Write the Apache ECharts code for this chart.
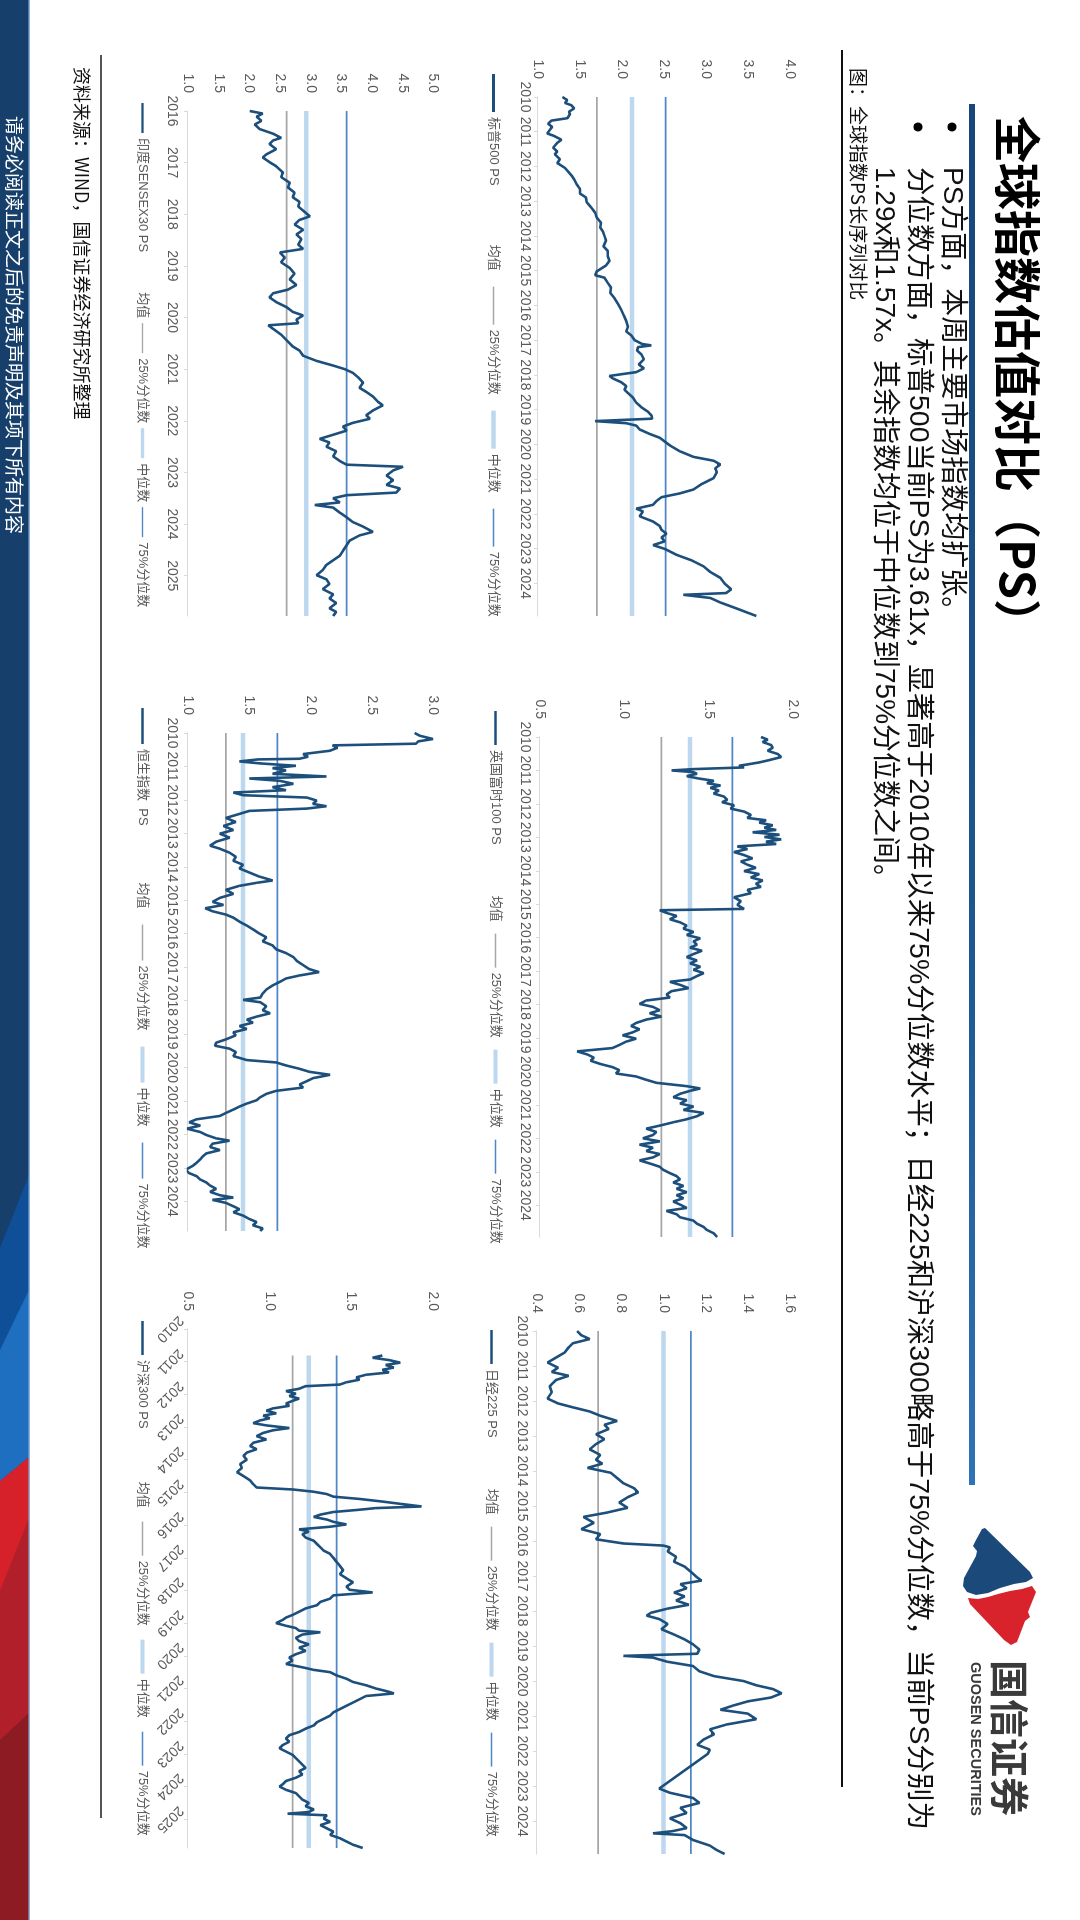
<!DOCTYPE html>
<html><head><meta charset="utf-8">
<script src="https://cdn.jsdelivr.net/npm/echarts@6/dist/echarts.min.js"></script>
<style>
html,body{margin:0;padding:0;width:1080px;height:1920px;overflow:hidden;background:#fff}
#slide{position:absolute;left:0;top:0;width:1920px;height:1080px;transform-origin:0 0;transform:translateX(1080px) rotate(90deg);background:#fff}
#chart{width:1920px;height:1080px}
</style></head><body>
<div id="slide"><div id="chart"></div></div>
<script>
// ---------- tick labels ----------
const ticks2010to2024 = ['2010','2011','2012','2013','2014','2015','2016','2017','2018','2019','2020','2021','2022','2023','2024'];
const ticksIndia = ['2016','2017','2018','2019','2020','2021','2022','2023','2024','2025'];
const ticksHS300 = ['2010','2011','2012','2013','2014','2015','2016','2017','2018','2019','2020','2021','2022','2023','2024','2025'];

// ---------- quantile levels [25%, median, 75%] ----------
const spxQuantiles = [1.70, 2.12, 2.52];
const ukQuantiles = [1.22, 1.39, 1.64];
const n225Quantiles = [0.69, 1.00, 1.13];
const indiaQuantiles = [2.61, 2.93, 3.59];
const hsiQuantiles = [1.31, 1.45, 1.73];
const hs300Quantiles = [1.14, 1.24, 1.41];

// ---------- PS series [axis position, PS] ----------
const spxPS = [[2010.00,1.29],[2010.09,1.35],[2010.17,1.32],[2010.24,1.40],[2010.33,1.43],[2010.42,1.37],[2010.50,1.38],[2010.61,1.35],[2010.68,1.16],[2010.77,1.12],[2010.86,1.17],[2010.95,1.14],[2011.05,1.11],[2011.12,1.19],[2011.23,1.28],[2011.32,1.23],[2011.46,1.18],[2011.57,1.23],[2011.65,1.20],[2011.79,1.26],[2011.90,1.23],[2012.04,1.32],[2012.15,1.36],[2012.26,1.40],[2012.37,1.43],[2012.51,1.46],[2012.65,1.50],[2012.78,1.50],[2012.89,1.57],[2013.03,1.58],[2013.20,1.64],[2013.33,1.68],[2013.47,1.70],[2013.62,1.75],[2013.75,1.74],[2013.86,1.77],[2013.99,1.79],[2014.13,1.81],[2014.30,1.78],[2014.43,1.83],[2014.58,1.83],[2014.72,1.85],[2014.85,1.81],[2015.02,1.70],[2015.13,1.68],[2015.20,1.79],[2015.35,1.83],[2015.49,1.87],[2015.64,1.86],[2015.79,1.91],[2015.95,1.95],[2016.12,1.99],[2016.28,2.02],[2016.45,2.05],[2016.62,2.07],[2016.75,2.05],[2016.86,2.11],[2017.00,2.15],[2017.11,2.24],[2017.15,2.35],[2017.20,2.19],[2017.30,2.18],[2017.41,2.23],[2017.55,2.26],[2017.70,2.20],[2017.81,2.26],[2017.92,2.17],[2018.03,1.85],[2018.10,1.89],[2018.21,1.99],[2018.32,2.05],[2018.43,2.03],[2018.54,2.08],[2018.65,2.13],[2018.80,2.17],[2018.93,2.23],[2019.06,2.31],[2019.17,2.35],[2019.26,2.36],[2019.33,1.68],[2019.39,2.05],[2019.46,2.17],[2019.57,2.21],[2019.70,2.33],[2019.81,2.45],[2019.92,2.51],[2020.03,2.57],[2020.20,2.69],[2020.36,2.85],[2020.47,3.09],[2020.58,3.17],[2020.69,3.11],[2020.80,3.13],[2020.97,3.09],[2021.14,2.95],[2021.30,2.85],[2021.41,2.69],[2021.52,2.47],[2021.63,2.41],[2021.74,2.37],[2021.85,2.17],[2021.93,2.25],[2022.07,2.21],[2022.22,2.37],[2022.35,2.45],[2022.46,2.47],[2022.57,2.53],[2022.68,2.47],[2022.79,2.51],[2022.90,2.37],[2023.01,2.51],[2023.18,2.65],[2023.34,2.83],[2023.51,2.97],[2023.67,3.05],[2023.84,3.17],[2024.00,3.22],[2024.17,3.30],[2024.28,3.24],[2024.33,2.73],[2024.42,3.05],[2024.55,3.17],[2024.72,3.36],[2024.83,3.48],[2024.94,3.60]];

const ukPS = [[2010.00,1.81],[2010.08,1.85],[2010.15,1.82],[2010.24,1.87],[2010.32,1.88],[2010.41,1.85],[2010.51,1.91],[2010.60,1.93],[2010.69,1.86],[2010.76,1.80],[2010.82,1.73],[2010.86,1.68],[2010.91,1.71],[2010.96,1.41],[2011.00,1.28],[2011.05,1.41],[2011.10,1.43],[2011.17,1.37],[2011.24,1.44],[2011.31,1.53],[2011.38,1.49],[2011.45,1.57],[2011.52,1.51],[2011.60,1.56],[2011.69,1.53],[2011.78,1.59],[2011.88,1.61],[2011.95,1.58],[2012.04,1.65],[2012.14,1.63],[2012.23,1.71],[2012.33,1.75],[2012.42,1.73],[2012.49,1.84],[2012.56,1.80],[2012.64,1.88],[2012.71,1.83],[2012.78,1.90],[2012.85,1.76],[2012.92,1.92],[2012.99,1.83],[2013.06,1.93],[2013.13,1.84],[2013.20,1.90],[2013.27,1.67],[2013.35,1.73],[2013.44,1.65],[2013.53,1.71],[2013.63,1.76],[2013.72,1.69],[2013.82,1.73],[2013.91,1.78],[2014.01,1.71],[2014.10,1.80],[2014.20,1.75],[2014.29,1.82],[2014.39,1.78],[2014.48,1.81],[2014.57,1.73],[2014.67,1.75],[2014.79,1.65],[2014.91,1.69],[2015.02,1.67],[2015.14,1.71],[2015.18,1.21],[2015.26,1.25],[2015.35,1.31],[2015.45,1.27],[2015.54,1.33],[2015.64,1.37],[2015.73,1.35],[2015.83,1.41],[2015.92,1.37],[2016.02,1.45],[2016.11,1.41],[2016.21,1.43],[2016.30,1.39],[2016.39,1.46],[2016.49,1.41],[2016.58,1.37],[2016.68,1.43],[2016.77,1.39],[2016.87,1.45],[2016.96,1.41],[2017.06,1.47],[2017.15,1.43],[2017.25,1.39],[2017.32,1.27],[2017.41,1.33],[2017.51,1.38],[2017.60,1.28],[2017.70,1.25],[2017.79,1.27],[2017.88,1.13],[2017.98,1.09],[2018.07,1.17],[2018.17,1.21],[2018.26,1.15],[2018.36,1.22],[2018.45,1.13],[2018.55,1.07],[2018.64,1.04],[2018.74,1.09],[2018.83,1.05],[2018.92,0.99],[2019.02,1.07],[2019.11,1.01],[2019.21,0.97],[2019.30,0.93],[2019.40,0.72],[2019.49,0.78],[2019.59,0.82],[2019.68,0.80],[2019.78,0.86],[2019.87,0.93],[2019.96,0.97],[2020.06,0.95],[2020.15,1.07],[2020.25,1.13],[2020.34,1.19],[2020.44,1.37],[2020.51,1.45],[2020.58,1.39],[2020.67,1.33],[2020.77,1.29],[2020.86,1.37],[2020.96,1.33],[2021.05,1.41],[2021.15,1.35],[2021.24,1.47],[2021.34,1.43],[2021.43,1.37],[2021.52,1.29],[2021.62,1.21],[2021.71,1.13],[2021.81,1.19],[2021.90,1.17],[2022.00,1.11],[2022.09,1.21],[2022.19,1.09],[2022.28,1.17],[2022.38,1.13],[2022.47,1.21],[2022.57,1.17],[2022.66,1.09],[2022.75,1.15],[2022.85,1.21],[2022.94,1.23],[2023.04,1.27],[2023.13,1.31],[2023.23,1.33],[2023.32,1.29],[2023.42,1.35],[2023.51,1.31],[2023.61,1.37],[2023.70,1.31],[2023.79,1.35],[2023.89,1.29],[2023.98,1.33],[2024.08,1.37],[2024.17,1.25],[2024.27,1.31],[2024.36,1.33],[2024.46,1.41],[2024.55,1.43],[2024.65,1.47],[2024.74,1.49],[2024.84,1.53],[2024.95,1.55]];

const n225PS = [[2010.00,0.59],[2010.12,0.61],[2010.23,0.65],[2010.35,0.57],[2010.47,0.55],[2010.62,0.53],[2010.76,0.49],[2010.90,0.45],[2011.05,0.50],[2011.17,0.47],[2011.28,0.55],[2011.40,0.49],[2011.58,0.46],[2011.75,0.47],[2011.93,0.45],[2012.07,0.50],[2012.18,0.57],[2012.30,0.65],[2012.42,0.70],[2012.57,0.78],[2012.68,0.72],[2012.80,0.74],[2012.95,0.68],[2013.09,0.72],[2013.23,0.68],[2013.38,0.65],[2013.54,0.70],[2013.68,0.68],[2013.79,0.71],[2013.91,0.64],[2014.05,0.75],[2014.20,0.78],[2014.35,0.81],[2014.49,0.86],[2014.61,0.88],[2014.75,0.83],[2014.90,0.79],[2015.05,0.83],[2015.19,0.73],[2015.31,0.62],[2015.48,0.67],[2015.66,0.61],[2015.80,0.70],[2015.95,0.68],[2016.07,0.81],[2016.13,1.00],[2016.18,1.03],[2016.30,1.02],[2016.45,1.06],[2016.59,1.05],[2016.73,1.10],[2016.88,1.13],[2017.04,1.16],[2017.13,1.18],[2017.23,1.08],[2017.35,1.11],[2017.47,1.05],[2017.58,1.10],[2017.70,1.06],[2017.82,1.12],[2017.93,1.02],[2018.05,0.94],[2018.13,0.92],[2018.23,0.98],[2018.37,1.02],[2018.52,0.99],[2018.67,1.05],[2018.81,1.10],[2018.95,1.14],[2019.10,1.17],[2019.22,1.16],[2019.28,0.81],[2019.33,0.95],[2019.45,1.02],[2019.57,1.14],[2019.72,1.17],[2019.86,1.24],[2020.00,1.38],[2020.12,1.44],[2020.23,1.52],[2020.35,1.56],[2020.47,1.51],[2020.58,1.40],[2020.70,1.33],[2020.82,1.27],[2020.93,1.40],[2021.09,1.44],[2021.24,1.30],[2021.38,1.22],[2021.52,1.24],[2021.67,1.19],[2021.82,1.16],[2021.96,1.22],[2022.08,1.21],[2023.07,0.98],[2023.19,1.03],[2023.34,1.14],[2023.48,1.17],[2023.62,1.08],[2023.77,1.11],[2023.92,1.03],[2024.06,1.08],[2024.20,1.11],[2024.29,1.04],[2024.35,0.95],[2024.40,1.10],[2024.54,1.14],[2024.70,1.22],[2024.82,1.25],[2024.94,1.29]];

const indiaPS = [[2016.00,2.01],[2016.05,2.22],[2016.11,2.12],[2016.19,2.20],[2016.26,2.09],[2016.35,2.17],[2016.44,2.39],[2016.52,2.52],[2016.57,2.39],[2016.64,2.33],[2016.74,2.44],[2016.84,2.28],[2016.90,2.22],[2016.99,2.33],[2017.07,2.44],[2017.19,2.55],[2017.28,2.52],[2017.39,2.66],[2017.48,2.63],[2017.58,2.74],[2017.67,2.71],[2017.76,2.82],[2017.85,2.80],[2017.95,2.90],[2018.04,2.99],[2018.11,2.82],[2018.20,2.74],[2018.30,2.88],[2018.39,2.77],[2018.48,2.85],[2018.59,2.80],[2018.67,2.88],[2018.74,2.50],[2018.84,2.58],[2018.93,2.52],[2019.04,2.66],[2019.15,2.74],[2019.26,2.66],[2019.37,2.77],[2019.46,2.63],[2019.53,2.39],[2019.61,2.33],[2019.70,2.44],[2019.80,2.61],[2019.89,2.71],[2019.96,2.88],[2020.04,2.77],[2020.11,2.80],[2020.15,2.31],[2020.22,2.39],[2020.33,2.52],[2020.44,2.61],[2020.56,2.71],[2020.64,2.82],[2020.74,2.88],[2020.84,3.10],[2020.93,3.37],[2021.00,3.56],[2021.07,3.69],[2021.16,3.78],[2021.26,3.86],[2021.36,3.80],[2021.44,3.91],[2021.53,4.02],[2021.63,4.10],[2021.70,4.18],[2021.80,4.02],[2021.89,3.91],[2021.96,3.97],[2022.04,3.69],[2022.11,3.53],[2022.19,3.59],[2022.27,3.37],[2022.35,3.15],[2022.42,3.31],[2022.50,3.26],[2022.59,3.42],[2022.69,3.37],[2022.78,3.48],[2022.85,3.59],[2022.89,4.51],[2022.96,4.35],[2023.06,4.24],[2023.15,4.35],[2023.24,4.24],[2023.31,4.46],[2023.39,4.40],[2023.44,3.59],[2023.50,3.37],[2023.58,3.48],[2023.63,3.07],[2023.68,3.37],[2023.78,3.48],[2023.87,3.59],[2023.96,3.69],[2024.05,3.86],[2024.15,4.02],[2024.22,3.80],[2024.32,3.64],[2024.41,3.59],[2024.52,3.53],[2024.61,3.48],[2024.70,3.37],[2024.79,3.26],[2024.89,3.20],[2024.99,3.10],[2025.07,3.26],[2025.16,3.31],[2025.26,3.20],[2025.36,3.37],[2025.44,3.31],[2025.53,3.42],[2025.63,3.31],[2025.70,3.42],[2025.78,3.37]];

const hsiPS = [[2010.00,2.85],[2010.08,2.89],[2010.18,3.00],[2010.25,2.88],[2010.32,2.86],[2010.37,2.18],[2010.44,2.22],[2010.53,2.16],[2010.63,1.94],[2010.71,1.98],[2010.77,1.91],[2010.79,1.57],[2010.85,1.42],[2010.91,1.59],[2010.98,1.88],[2011.05,1.69],[2011.12,1.80],[2011.22,1.69],[2011.30,2.13],[2011.36,1.50],[2011.43,1.75],[2011.52,1.86],[2011.62,1.69],[2011.71,1.80],[2011.78,1.37],[2011.86,1.45],[2011.93,1.97],[2012.02,2.05],[2012.12,2.02],[2012.19,2.13],[2012.26,1.97],[2012.33,1.50],[2012.42,1.42],[2012.54,1.31],[2012.66,1.39],[2012.78,1.29],[2012.90,1.37],[2013.01,1.26],[2013.13,1.34],[2013.25,1.23],[2013.37,1.18],[2013.46,1.26],[2013.58,1.34],[2013.70,1.39],[2013.82,1.37],[2013.94,1.45],[2014.05,1.42],[2014.17,1.50],[2014.29,1.58],[2014.41,1.69],[2014.48,1.56],[2014.57,1.42],[2014.69,1.31],[2014.81,1.37],[2014.93,1.26],[2015.05,1.20],[2015.14,1.29],[2015.24,1.14],[2015.33,1.20],[2015.43,1.31],[2015.52,1.37],[2015.64,1.42],[2015.76,1.48],[2015.87,1.53],[2015.99,1.58],[2016.11,1.64],[2016.23,1.61],[2016.35,1.69],[2016.47,1.72],[2016.58,1.80],[2016.70,1.86],[2016.82,1.89],[2016.94,1.94],[2017.06,1.99],[2017.15,2.07],[2017.25,1.91],[2017.34,1.80],[2017.44,1.75],[2017.55,1.69],[2017.67,1.64],[2017.79,1.61],[2017.91,1.59],[2017.98,1.45],[2018.05,1.59],[2018.17,1.64],[2018.29,1.61],[2018.38,1.67],[2018.48,1.56],[2018.57,1.48],[2018.66,1.53],[2018.76,1.42],[2018.85,1.48],[2018.95,1.37],[2019.04,1.39],[2019.16,1.31],[2019.26,1.23],[2019.35,1.22],[2019.44,1.34],[2019.54,1.39],[2019.66,1.37],[2019.78,1.48],[2019.85,1.72],[2019.94,1.80],[2020.04,1.91],[2020.13,1.99],[2020.22,2.16],[2020.32,2.02],[2020.41,1.97],[2020.51,1.91],[2020.60,1.94],[2020.70,1.72],[2020.79,1.64],[2020.89,1.59],[2020.98,1.56],[2021.08,1.48],[2021.17,1.42],[2021.26,1.37],[2021.36,1.31],[2021.45,1.26],[2021.55,1.07],[2021.64,1.01],[2021.74,1.10],[2021.83,0.99],[2021.93,1.10],[2022.02,1.15],[2022.12,1.23],[2022.19,1.34],[2022.28,1.20],[2022.38,1.18],[2022.47,1.26],[2022.57,1.15],[2022.66,1.12],[2022.75,1.10],[2022.85,1.07],[2022.94,1.04],[2023.06,0.98],[2023.16,1.01],[2023.25,1.07],[2023.35,1.10],[2023.44,1.15],[2023.53,1.18],[2023.63,1.23],[2023.72,1.18],[2023.82,1.26],[2023.89,1.37],[2023.96,1.20],[2024.05,1.31],[2024.15,1.37],[2024.24,1.42],[2024.33,1.37],[2024.43,1.45],[2024.53,1.50],[2024.62,1.56],[2024.72,1.53],[2024.81,1.61],[2024.89,1.59]];

const hs300PS = [[2010.81,1.69],[2010.88,1.63],[2010.95,1.73],[2011.03,1.80],[2011.10,1.71],[2011.18,1.76],[2011.25,1.69],[2011.33,1.73],[2011.40,1.59],[2011.48,1.53],[2011.55,1.55],[2011.63,1.47],[2011.70,1.43],[2011.75,1.22],[2011.83,1.18],[2011.90,1.10],[2011.98,1.16],[2012.05,1.12],[2012.13,1.18],[2012.20,1.14],[2012.28,1.10],[2012.35,1.12],[2012.43,1.02],[2012.50,0.98],[2012.58,1.04],[2012.65,0.96],[2012.73,1.00],[2012.80,0.94],[2012.88,0.90],[2012.95,0.98],[2013.03,1.12],[2013.10,1.02],[2013.18,0.96],[2013.28,0.92],[2013.38,0.98],[2013.48,0.90],[2013.58,0.88],[2013.68,0.92],[2013.78,0.86],[2013.88,0.84],[2014.00,0.86],[2014.13,0.82],[2014.25,0.83],[2014.38,0.80],[2014.50,0.84],[2014.63,0.88],[2014.75,0.90],[2014.85,0.92],[2014.91,1.14],[2014.98,1.27],[2015.05,1.35],[2015.13,1.39],[2015.20,1.55],[2015.28,1.69],[2015.35,1.80],[2015.43,1.93],[2015.48,1.65],[2015.53,1.55],[2015.60,1.39],[2015.68,1.31],[2015.75,1.27],[2015.83,1.35],[2015.90,1.39],[2015.98,1.47],[2016.05,1.37],[2016.13,1.18],[2016.20,1.24],[2016.28,1.20],[2016.38,1.22],[2016.48,1.27],[2016.58,1.29],[2016.68,1.31],[2016.78,1.33],[2016.88,1.37],[2017.00,1.39],[2017.13,1.41],[2017.25,1.43],[2017.38,1.45],[2017.50,1.43],[2017.63,1.47],[2017.75,1.51],[2017.88,1.47],[2017.98,1.49],[2018.06,1.63],[2018.15,1.39],[2018.25,1.37],[2018.35,1.31],[2018.45,1.29],[2018.55,1.22],[2018.65,1.18],[2018.75,1.14],[2018.83,1.10],[2018.90,1.08],[2019.00,1.04],[2019.08,1.10],[2019.15,1.16],[2019.23,1.18],[2019.28,1.31],[2019.35,1.20],[2019.45,1.16],[2019.55,1.18],[2019.65,1.24],[2019.75,1.18],[2019.85,1.22],[2019.95,1.16],[2020.05,1.12],[2020.15,1.14],[2020.25,1.10],[2020.35,1.20],[2020.43,1.27],[2020.50,1.37],[2020.60,1.41],[2020.70,1.47],[2020.80,1.51],[2020.90,1.59],[2021.00,1.65],[2021.10,1.73],[2021.15,1.76],[2021.23,1.59],[2021.33,1.55],[2021.43,1.51],[2021.53,1.47],[2021.63,1.43],[2021.73,1.39],[2021.83,1.37],[2021.93,1.33],[2022.03,1.29],[2022.13,1.27],[2022.23,1.22],[2022.33,1.18],[2022.43,1.12],[2022.53,1.10],[2022.63,1.12],[2022.73,1.08],[2022.83,1.06],[2022.93,1.10],[2023.03,1.14],[2023.13,1.16],[2023.23,1.18],[2023.33,1.20],[2023.43,1.22],[2023.53,1.18],[2023.63,1.20],[2023.73,1.16],[2023.83,1.10],[2023.93,1.08],[2024.00,1.06],[2024.10,1.10],[2024.20,1.16],[2024.30,1.18],[2024.40,1.20],[2024.50,1.24],[2024.60,1.22],[2024.70,1.27],[2024.78,1.24],[2024.83,1.11],[2024.88,1.35],[2024.98,1.33],[2025.08,1.37],[2025.18,1.31],[2025.28,1.35],[2025.38,1.39],[2025.48,1.37],[2025.58,1.43],[2025.68,1.47],[2025.78,1.51],[2025.88,1.57]];

// ---------- texts ----------
const titleText = '全球指数估值对比（PS）';
const bullet1 = 'PS方面，本周主要市场指数均扩张。';
const bullet2a = '分位数方面，标普500当前PS为3.61x，显著高于2010年以来75%分位数水平；日经225和沪深300略高于75%分位数，当前PS分别为';
const bullet2b = '1.29x和1.57x。其余指数均位于中位数到75%分位数之间。';
const captionText = '图：全球指数PS长序列对比';
const sourceText = '资料来源：WIND，国信证券经济研究所整理';
const footerText = '请务必阅读正文之后的免责声明及其项下所有内容';
const legendNames = ['均值','25%分位数','中位数','75%分位数'];

// ---------- layout (slide pixel coords) ----------
const FONT = '"Liberation Sans","Noto Sans CJK SC",sans-serif';
const C_MAIN = '#1c4f7c', C_Q25 = '#a6a6a6', C_MED = '#bdd7ee', C_Q75 = '#4e86c6', C_TXT = '#595959';
const ICON_MAIN = 'path://M0,0H40V3H0Z', ICON_THIN = 'path://M0,0H40V1.8H0Z', ICON_MED = 'path://M0,0H40V4.5H0Z';

const panels = [
  {name:'标普500 PS', data:spxPS, q:spxQuantiles, grid:[97,290,519,252], y:[1,4,0.5], x:[2010,2024.94], qx:[2010,2024.94], ticks:ticks2010to2024, t0:2010, leg:[74,580,38,16], rot:0, lm:6},
  {name:'英国富时100 PS', data:ukPS, q:ukQuantiles, grid:[737,287,500,253], y:[0.5,2,0.5], x:[2010,2024.95], qx:[2010,2024.95], ticks:ticks2010to2024, t0:2010, leg:[711,578,34,12], rot:0, lm:8},
  {name:'日经225 PS', data:n225PS, q:n225Quantiles, grid:[1331,290,523,253], y:[0.4,1.6,0.2], x:[2010,2024.94], qx:[2010,2024.94], ticks:ticks2010to2024, t0:2010, leg:[1330,582,34,12], rot:0, lm:8},
  {name:'印度SENSEX30 PS', data:indiaPS, q:indiaQuantiles, grid:[111,647,505,245], y:[1,5,0.5], x:[2016,2025.78], qx:[2016,2025.78], ticks:ticksIndia, t0:2016, leg:[103,931,30,5], rot:0, lm:9},
  {name:'恒生指数  PS', data:hsiPS, q:hsiQuantiles, grid:[733,647,498,245], y:[1,3,0.5], x:[2010,2024.89], qx:[2010,2024.89], ticks:ticks2010to2024, t0:2010, leg:[708,931,36,16], rot:0, lm:9},
  {name:'沪深300 PS', data:hs300PS, q:hs300Quantiles, grid:[1329,647,519,245], y:[0.5,2,0.5], x:[2010,2025.88], qx:[2010.81,2025.88], ticks:ticksHS300, t0:2010, leg:[1321,931,34,14], rot:-45, lm:18}
];

const grids = [], xAxes = [], yAxes = [], series = [], legends = [];
panels.forEach((p, i) => {
  grids.push({left:p.grid[0], top:p.grid[1], width:p.grid[2], height:p.grid[3], containLabel:false});
  const tickVals = p.ticks.map((t, k) => p.t0 + k);
  const lab = {fontSize:14, color:C_TXT, fontFamily:FONT, margin:p.lm, customValues:tickVals,
    formatter: v => { const k = Math.round(v - p.t0); return p.ticks[k] || ''; }};
  if (p.rot) { lab.rotate = p.rot; lab.align = 'center'; lab.verticalAlign = 'middle'; }
  xAxes.push({type:'value', gridIndex:i, min:p.x[0], max:p.x[1], interval:1,
    axisLine:{show:true, onZero:false, lineStyle:{color:'#d9d9d9', width:1}},
    axisTick:{show:true, length:4, inside:false, customValues:tickVals, lineStyle:{color:'#d9d9d9'}},
    splitLine:{show:false}, axisLabel:lab});
  yAxes.push({type:'value', gridIndex:i, min:p.y[0], max:p.y[1], interval:p.y[2],
    axisLine:{show:false}, axisTick:{show:false}, splitLine:{show:false},
    axisLabel:{fontSize:14, color:C_TXT, fontFamily:FONT, margin:18, formatter: v => v.toFixed(1)}});
  const base = {type:'line', xAxisIndex:i, yAxisIndex:i, symbol:'none', showSymbol:false, silent:true, animation:false};
  series.push(Object.assign({}, base, {name:'均值', data:[], lineStyle:{color:'rgba(255,255,255,0)', width:1.5}, itemStyle:{color:'rgba(255,255,255,0)'}, z:1}));
  series.push(Object.assign({}, base, {name:'25%分位数', data:[[p.qx[0],p.q[0]],[p.qx[1],p.q[0]]], lineStyle:{color:C_Q25, width:1.8}, itemStyle:{color:C_Q25}, z:2}));
  series.push(Object.assign({}, base, {name:'中位数', data:[[p.qx[0],p.q[1]],[p.qx[1],p.q[1]]], lineStyle:{color:C_MED, width:4.5}, itemStyle:{color:C_MED}, z:2}));
  series.push(Object.assign({}, base, {name:'75%分位数', data:[[p.qx[0],p.q[2]],[p.qx[1],p.q[2]]], lineStyle:{color:C_Q75, width:1.8}, itemStyle:{color:C_Q75}, z:2}));
  series.push(Object.assign({}, base, {name:p.name, data:p.data, lineStyle:{color:C_MAIN, width:2.6}, itemStyle:{color:C_MAIN}, z:5}));
  legends.push({data:[{name:p.name, icon:ICON_MAIN},{name:legendNames[0], icon:ICON_THIN},{name:legendNames[1], icon:ICON_THIN},{name:legendNames[2], icon:ICON_MED},{name:legendNames[3], icon:ICON_THIN}],
    left:p.leg[0], top:p.leg[1], orient:'horizontal', symbolKeepAspect:true,
    itemWidth:p.leg[2], itemHeight:12, itemGap:p.leg[3], selectedMode:false, padding:0,
    textStyle:{fontSize:13, color:C_TXT, fontFamily:FONT}});
});

const txt = (x, y, text, size, opts) => Object.assign({type:'text', x:x, y:y, silent:true,
  style:Object.assign({text:text, fontSize:size, fontFamily:FONT, fill:'#000', align:'left', verticalAlign:'middle'}, opts || {})});

const graphics = [
  // footer strip
  {type:'rect', shape:{x:0, y:1051, width:1920, height:29}, style:{fill:'#173f6c'}, silent:true},
  {type:'polygon', shape:{points:[[1175,1051],[1920,1051],[1920,1080],[1248,1080]]}, style:{fill:'#0f4f97'}, silent:true},
  {type:'polygon', shape:{points:[[1290,1051],[1457,1051],[1481,1080],[1350,1080]]}, style:{fill:'#1f6fc0'}, silent:true},
  {type:'polygon', shape:{points:[[1457,1051],[1920,1051],[1920,1080],[1481,1080]]}, style:{fill:'#d7212a'}, silent:true},
  {type:'polygon', shape:{points:[[1518,1051],[1920,1051],[1920,1080],[1591,1080]]}, style:{fill:'#b01f2a'}, silent:true},
  {type:'polygon', shape:{points:[[1713,1051],[1920,1051],[1920,1080],[1740,1080]]}, style:{fill:'#8c1b23'}, silent:true},
  {type:'rect', shape:{x:0, y:1050, width:1920, height:1.5}, style:{fill:'#8fb3d9'}, silent:true},
  txt(116, 1066, footerText, 19, {fill:'#ffffff', fontFamily:'"Noto Sans CJK SC",sans-serif'}),
  // title
  txt(116, 62, titleText, 47, {fontWeight:'bold', fontFamily:'"Noto Sans CJK SC",sans-serif', fill:'#000'}),
  {type:'rect', shape:{x:104, y:105, width:1381, height:6}, silent:true,
    style:{fill:new echarts.graphic.LinearGradient(0,0,1,0,[{offset:0,color:'#17467a'},{offset:0.6,color:'#1d5690'},{offset:1,color:'#2f72b6'}])}},
  // bullets
  {type:'circle', shape:{cx:127, cy:128, r:4.5}, style:{fill:'#000'}, silent:true},
  txt(167, 128, bullet1, 28, {fill:'#111'}),
  {type:'circle', shape:{cx:127, cy:162, r:4.5}, style:{fill:'#000'}, silent:true},
  txt(167, 162, bullet2a, 28.5, {fill:'#111'}),
  txt(167, 196, bullet2b, 28, {fill:'#111'}),
  // caption + separators
  txt(68, 222, captionText, 19, {fill:'#111', fontFamily:'"Noto Sans CJK SC",sans-serif'}),
  {type:'rect', shape:{x:50, y:237, width:1737, height:2}, style:{fill:'#111'}, silent:true},
  {type:'rect', shape:{x:55, y:978, width:1763, height:2}, style:{fill:'#555'}, silent:true},
  txt(67, 998, sourceText, 18, {fill:'#111', fontFamily:'"Noto Sans CJK SC",sans-serif'}),
  // logo
  {type:'polygon', silent:true, style:{fill:'#1b4a7a'}, shape:{points:[[1528,95],[1572,50],[1578,47],[1582,54],[1584,66],[1588,80],[1593,92],[1595,104],[1592,113],[1586,117],[1578,116],[1556,104],[1551,103],[1546,107],[1540,104],[1529,98]]}},
  {type:'polygon', silent:true, style:{fill:'#d9232c'}, shape:{points:[[1586,48],[1592,44],[1612,52],[1617,50],[1621,55],[1642,63],[1645,69],[1640,76],[1604,110],[1598,112],[1599,102],[1597,92],[1594,82],[1591,70],[1589,58]]}},
  txt(1660, 70, '国信证券', 39, {fill:'#3a3a3a', fontWeight:'bold', fontFamily:'"Noto Sans CJK SC",sans-serif'}),
  txt(1662, 105, 'GUOSEN SECURITIES', 14.5, {fill:'#3a3a3a', fontWeight:'bold'})
];

const chart = echarts.init(document.getElementById('chart'), null, {renderer:'canvas', width:1920, height:1080});
chart.setOption({
  animation:false,
  backgroundColor:'#ffffff',
  grid:grids, xAxis:xAxes, yAxis:yAxes, series:series, legend:legends,
  graphic:{elements:graphics}
});
</script>
</body></html>
